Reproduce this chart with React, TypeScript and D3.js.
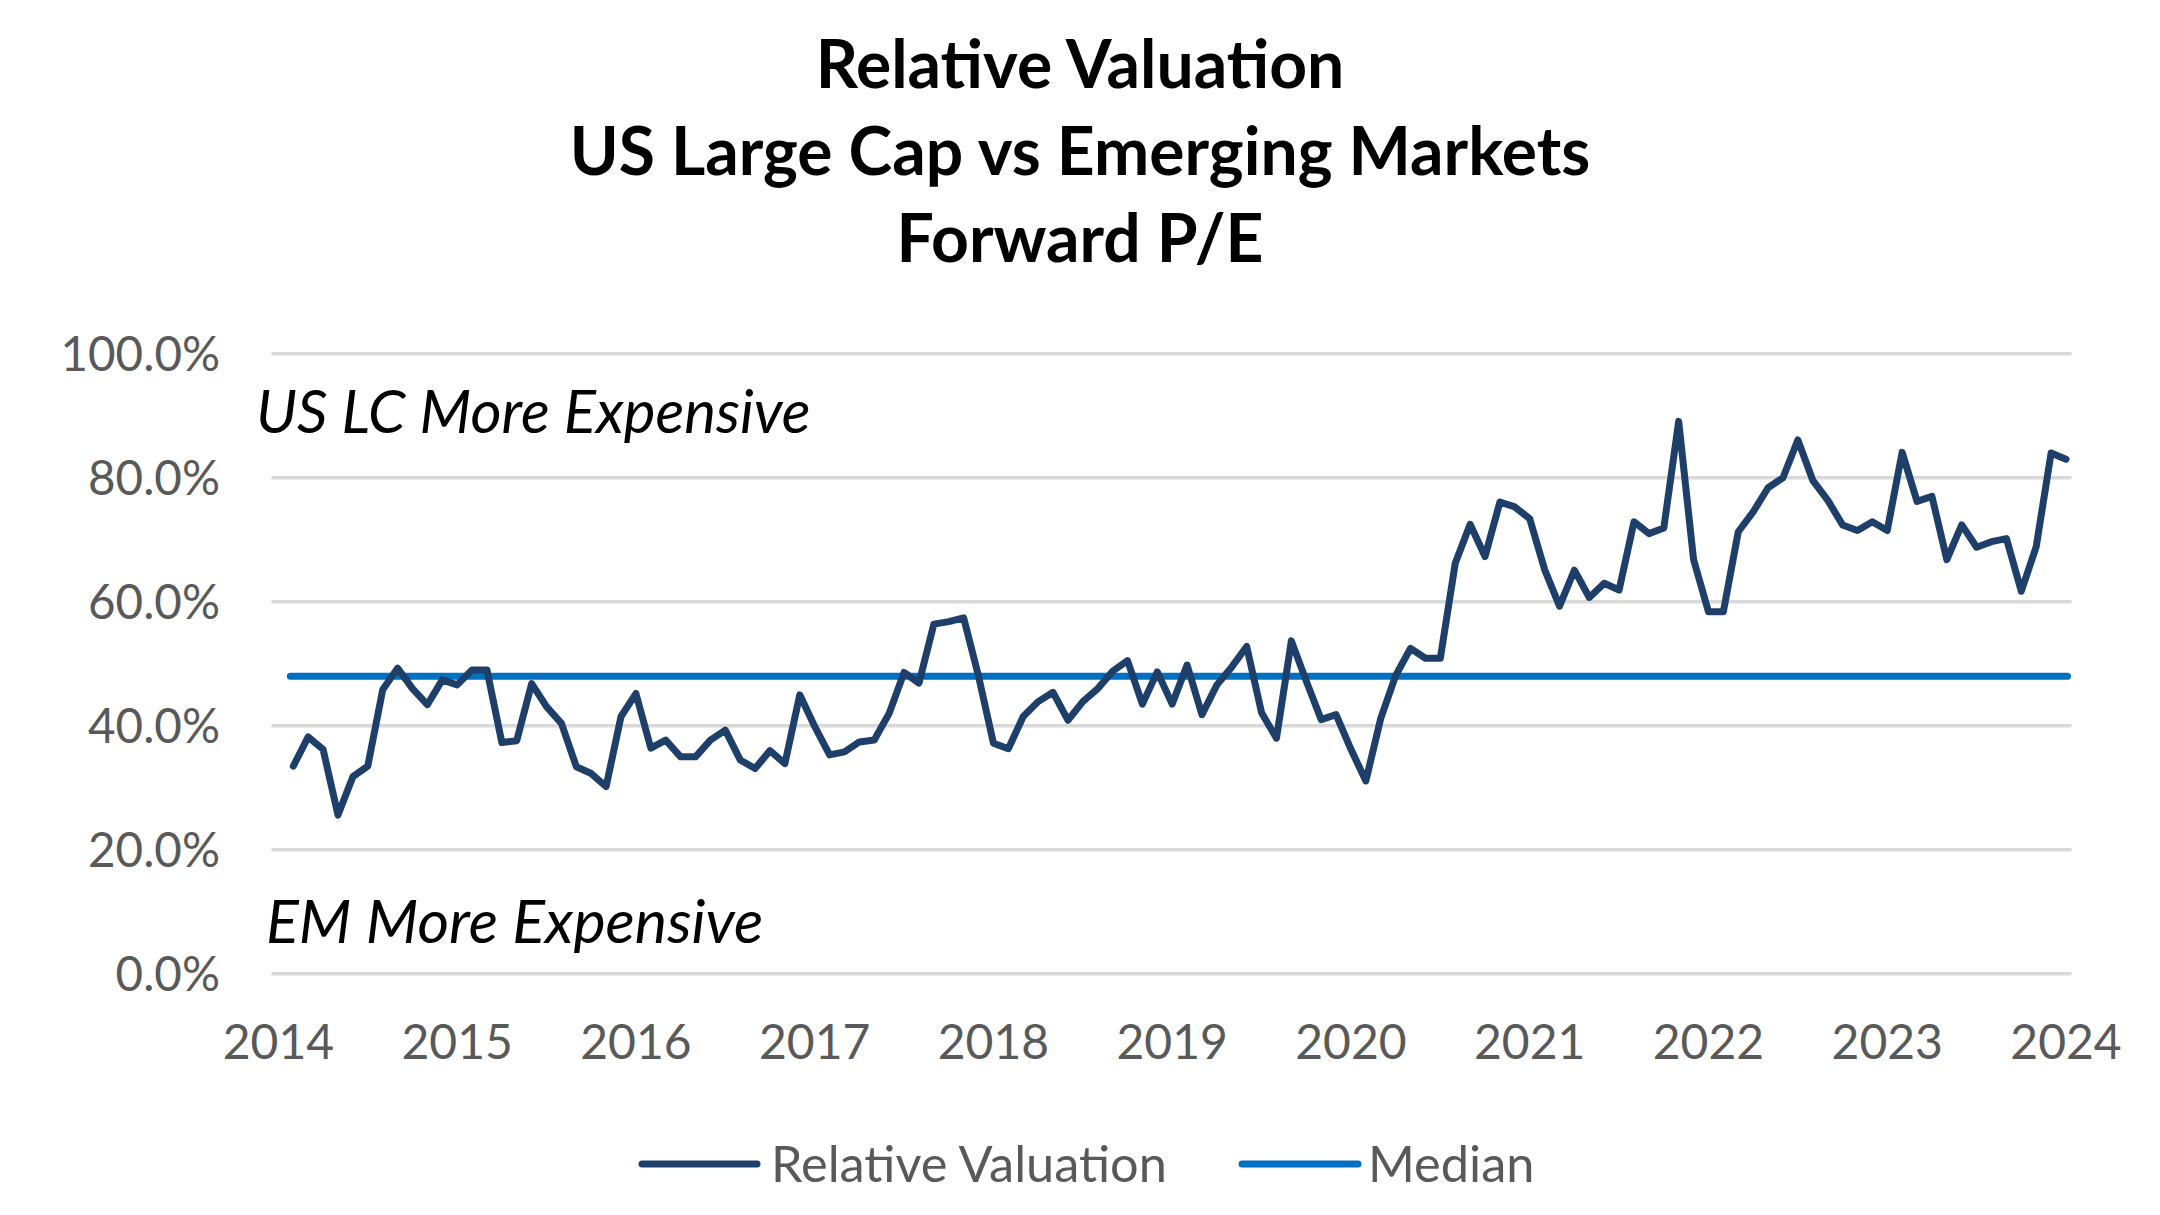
import React from "react";
import * as d3 from "d3";

// ---- data (monthly, Feb 2014 .. Jan 2024) ----
const relativeValuation: number[] = [
  33.5, 38.2, 36.2, 25.6, 31.8, 33.5, 45.8, 49.3, 46.0, 43.4, 47.4, 46.6,
  49.0, 49.0, 37.3, 37.6, 46.8, 43.1, 40.4, 33.4, 32.3, 30.2, 41.5, 45.2,
  36.4, 37.7, 35.0, 35.0, 37.7, 39.3, 34.5, 33.1, 36.0, 33.9, 45.0, 39.9,
  35.3, 35.8, 37.4, 37.7, 42.0, 48.6, 46.9, 56.4, 56.8, 57.4, 48.0, 37.2,
  36.3, 41.5, 43.9, 45.4, 40.9, 43.9, 46.0, 48.8, 50.5, 43.5, 48.7, 43.5,
  49.8, 41.8, 46.6, 49.5, 52.8, 42.1, 38.0, 53.7, 47.2, 41.0, 41.8, 36.2,
  31.1, 41.2, 48.1, 52.5, 50.9, 50.9, 66.2, 72.5, 67.3, 76.1, 75.3, 73.4,
  65.2, 59.3, 65.1, 60.7, 63.0, 61.9, 72.9, 71.0, 71.9, 89.1, 66.8, 58.4,
  58.4, 71.3, 74.5, 78.4, 80.0, 86.1, 79.6, 76.4, 72.4, 71.5, 72.9, 71.5,
  84.1, 76.2, 77.0, 66.8, 72.4, 68.8, 69.7, 70.2, 61.7, 68.9, 84.0, 83.0,
];
const medianValue = 48.0;
const yearLabels: string[] = ["2014", "2015", "2016", "2017", "2018", "2019", "2020", "2021", "2022", "2023", "2024"];
const yTicks: number[] = [0, 20, 40, 60, 80, 100];
const titleLines: string[] = ["Relative Valuation", "US Large Cap vs Emerging Markets", "Forward P/E"];
const upperNote = "US LC More Expensive";
const lowerNote = "EM More Expensive";
const legendItems = [
  { label: "Relative Valuation", color: "#1F3F6B" },
  { label: "Median", color: "#0070C0" },
];

const W = 2160;
const H = 1215;
const FONT = "Lato, 'Open Sans', sans-serif";

export default function App() {
  const x = d3.scaleLinear().domain([0, 120]).range([278.4, 2066]);
  const y = d3.scaleLinear().domain([0, 100]).range([973.8, 353.8]);
  const gridX0 = 271.5;
  const gridX1 = 2071.5;

  const line = d3
    .line<number>()
    .x((_, i) => x(i + 1))
    .y((d) => y(d));

  const medianPath = d3
    .line<number>()
    .x((d) => x(d))
    .y(() => y(medianValue))([0.8, 120.1]);

  return (
    <svg
      width={W}
      height={H}
      style={{ position: "absolute", left: 0, top: 0, background: "#fff" }}
      fontFamily={FONT}
    >
      <rect x={0} y={0} width={W} height={H} fill="#fff" />
      {/* title */}
      {titleLines.map((t, i) => (
        <text
          key={t}
          x={1080}
          y={88 + i * 87}
          textAnchor="middle"
          fontWeight={700}
          fontSize={66}
          fill="#000"
        >
          {t}
        </text>
      ))}

      {/* gridlines */}
      {yTicks.map((v) => (
        <line key={v} x1={gridX0} x2={gridX1} y1={y(v)} y2={y(v)} stroke="#D9D9D9" strokeWidth={3.5} />
      ))}

      {/* y tick labels */}
      {yTicks.map((v) => (
        <text
          key={"l" + v}
          x={220}
          y={y(v)}
          dy="0.36em"
          textAnchor="end"
          fontSize={47.5}
          fill="#595959"
        >
          {v.toFixed(1) + "%"}
        </text>
      ))}

      {/* x labels */}
      {yearLabels.map((lab, i) => (
        <text key={lab} x={x(i * 12)} y={1059} textAnchor="middle" fontSize={48} fill="#595959">
          {lab}
        </text>
      ))}

      {/* annotations */}
      <text x={256} y={433} fontSize={60} fontStyle="italic" fill="#000">
        {upperNote}
      </text>
      <text x={266} y={943} fontSize={61} fontStyle="italic" fill="#000">
        {lowerNote}
      </text>

      {/* median */}
      <path d={medianPath || ""} fill="none" stroke={legendItems[1].color} strokeWidth={7} strokeLinecap="round" />
      {/* series */}
      <path
        d={line(relativeValuation) || ""}
        fill="none"
        stroke={legendItems[0].color}
        strokeWidth={7}
        strokeLinejoin="round"
        strokeLinecap="round"
      />

      {/* legend */}
      <g>
        <line x1={642} x2={757} y1={1164} y2={1164} stroke={legendItems[0].color} strokeWidth={7} strokeLinecap="round" />
        <text x={771} y={1164} dy="0.36em" fontSize={50.5} fill="#595959">
          {legendItems[0].label}
        </text>
        <line x1={1242} x2={1358} y1={1164} y2={1164} stroke={legendItems[1].color} strokeWidth={7} strokeLinecap="round" />
        <text x={1368} y={1164} dy="0.36em" fontSize={50.5} fill="#595959">
          {legendItems[1].label}
        </text>
      </g>
    </svg>
  );
}
